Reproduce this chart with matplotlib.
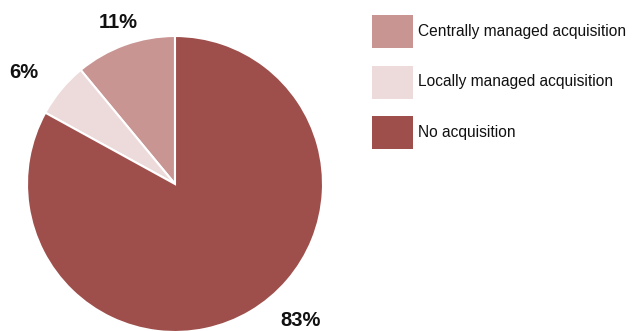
import matplotlib
matplotlib.use("Agg")
import matplotlib.pyplot as plt
from matplotlib.patches import Rectangle
import numpy as np

categories = ["Centrally managed acquisition", "Locally managed acquisition", "No acquisition"]
values = [11, 6, 83]
colors = ["#C89593", "#EDDBDB", "#9E4F4C"]

plt.rcParams['font.family'] = ['Liberation Sans', 'DejaVu Sans']

W, H = 637, 331
fig = plt.figure(figsize=(W / 100, H / 100), dpi=100)
cx, cy, R = 175, 184, 148
ax = fig.add_axes([(cx - R) / W, (H - cy - R) / H, 2 * R / W, 2 * R / H])

wedges, _ = ax.pie(values, colors=colors, startangle=90, counterclock=True,
                   radius=1, wedgeprops=dict(edgecolor='white', linewidth=1.5))
ax.set_xlim(-1, 1)
ax.set_ylim(-1, 1)
ax.set_aspect('equal')
ax.axis('off')

# label positions (angle in degrees, distance in radius units)
label_pos = [(109.4, 1.16), (143.7, 1.27), (312.6, 1.25)]
for v, (ang, dist) in zip(values, label_pos):
    a = np.deg2rad(ang)
    ax.text(dist * np.cos(a), dist * np.sin(a), f"{v}%", ha='center', va='center',
            fontsize=14.5, fontweight='bold', color='#111111', clip_on=False)

# legend, drawn manually (pixel layout)
box_x, box_w, box_h = 372, 41, 33
box_tops = [15, 65.5, 116]
for cat, col, top in zip(categories, colors, box_tops):
    fig.add_artist(Rectangle((box_x / W, 1 - (top + box_h) / H), box_w / W, box_h / H,
                             transform=fig.transFigure, facecolor=col, edgecolor='none'))
    fig.text((box_x + box_w + 5) / W, 1 - (top + box_h / 2) / H, cat,
             ha='left', va='center', fontsize=11.2, color='#111111')

fig.savefig("out.png", dpi=100)
